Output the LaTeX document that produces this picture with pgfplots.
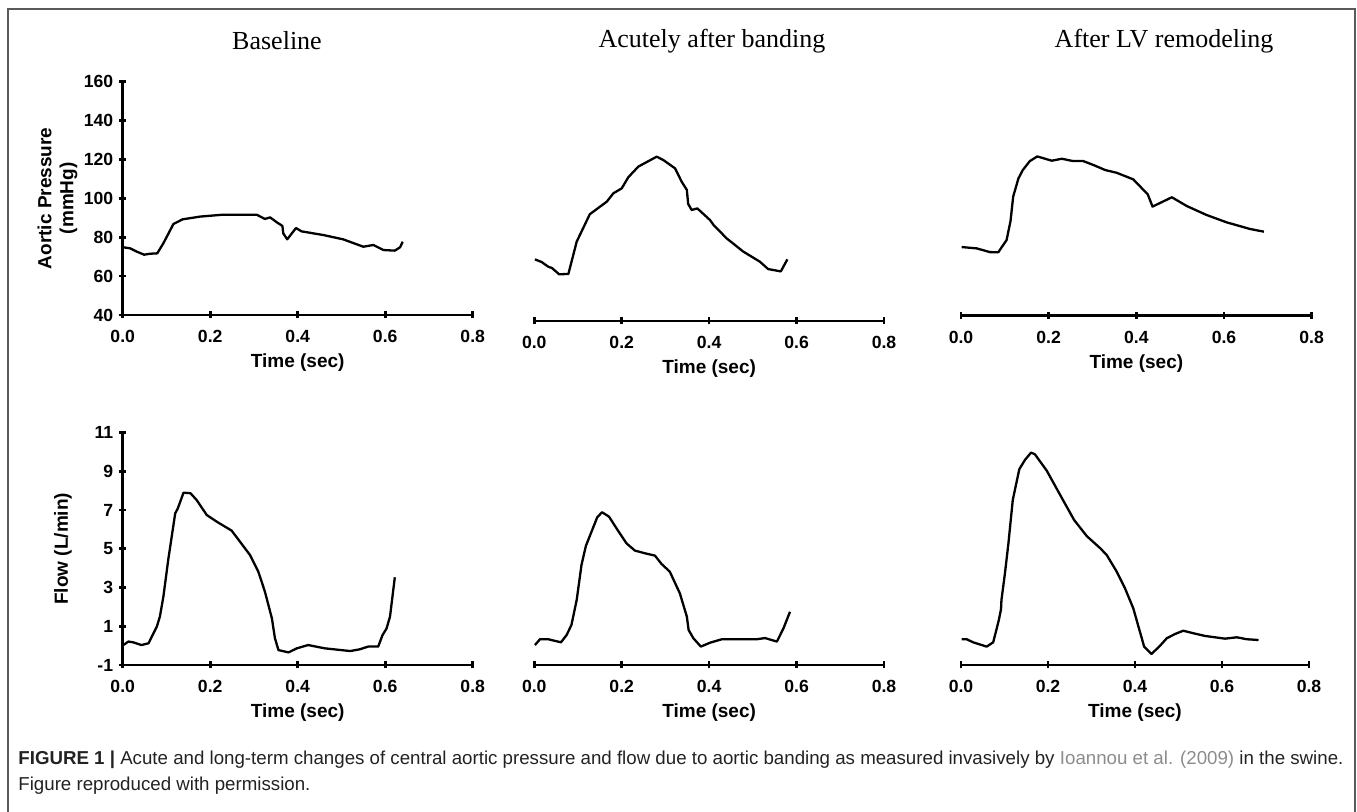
\documentclass[border=0pt]{standalone}
\usepackage{pgfplots}
\pgfplotsset{compat=1.18}
\usepackage{fontspec}
\setmainfont{Liberation Serif}
\setsansfont{Liberation Sans}
\definecolor{framegray}{HTML}{5A5A5A}
\definecolor{captxt}{HTML}{222222}
\definecolor{citegray}{HTML}{8C8C8C}

\pgfplotsset{
  panel/.style={
    scale only axis, anchor=south west, clip=false,
    xmin=0, xmax=0.8, xtick={0,0.2,0.4,0.6,0.8},
    tick style={line width=1.35pt, black},
    tick align=outside, major tick length=3.5pt,
    ticklabel style={font=\fontsize{8.8}{10}\sffamily\bfseries},
    /pgf/number format/assume math mode=true,
    xticklabel style={yshift=-2.5pt, /pgf/number format/.cd, fixed, fixed zerofill, precision=1},
    yticklabel style={xshift=0.5pt},
    xlabel={Time (sec)},
    label style={font=\fontsize{9.5}{11}\sffamily\bfseries},
    xlabel style={at={(axis description cs:0.5,0)}, anchor=center, yshift=-24pt},
    cycle list={{black,no marks}},
    every axis plot/.append style={line width=1.15pt, line join=round},
  },
  leftp/.style={panel, axis lines=left,
    x axis line style={line width=1.4pt, -}, y axis line style={line width=1.4pt, -}},
  otherp/.style={panel, axis x line=bottom, axis y line=none, ytick=\empty,
    x axis line style={line width=1.4pt, -}},
  press/.style={ymin=40, ymax=160, height=116.67pt},
  flow/.style={ymin=-1, ymax=11, height=116.17pt},
}

\begin{document}
\begin{tikzpicture}[x=1pt,y=1pt]
\useasboundingbox (0,0) rectangle (678.5,406);
\draw[framegray, line width=0.8pt] (4,0) -- (4,401.5) -- (677.5,401.5) -- (677.5,0);

\node[font=\fontsize{13}{15}\selectfont] at (138.5,385.5) {Baseline};
\node[font=\fontsize{13}{15}\selectfont] at (356,385.5) {Acutely after banding};
\node[font=\fontsize{13}{15}\selectfont] at (582,385.5) {After LV remodeling};

% top row: aortic pressure
\begin{axis}[leftp, press, at={(61.35pt,248.5pt)}, width=175pt,
  ytick={40,60,...,160},
  ylabel={Aortic Pressure\\(mmHg)},
  ylabel style={align=center, at={(axis description cs:-0.186,0.5)}, anchor=center}]
\addplot coordinates {
 (0.0015,74.8) (0.017,74.3) (0.032,72.6) (0.049,71.0) (0.0625,71.5) (0.079,71.7)
 (0.093,76.9) (0.116,86.8) (0.137,89.2) (0.177,90.6) (0.230,91.6) (0.306,91.6)
 (0.325,89.4) (0.337,90.2) (0.352,87.7) (0.365,85.8) (0.367,82.0) (0.376,78.9)
 (0.396,84.7) (0.409,83.0) (0.459,81.1) (0.504,78.9) (0.550,75.1) (0.573,76.0)
 (0.596,73.4) (0.622,73.1) (0.634,74.8) (0.640,77.7)
};
\end{axis}

\begin{axis}[otherp, press, at={(267.15pt,245.5pt)}, width=174.85pt]
\addplot coordinates {
 (0.0015,71.7) (0.017,70.3) (0.032,67.9) (0.040,67.3) (0.057,64.0) (0.078,64.2)
 (0.097,80.8) (0.127,94.9) (0.166,101.4) (0.181,105.7) (0.200,108.2) (0.215,113.9)
 (0.238,119.4) (0.280,124.5) (0.295,122.8) (0.322,118.5) (0.337,111.7) (0.349,107.4)
 (0.352,100.2) (0.360,97.1) (0.373,97.9) (0.387,95.0) (0.402,91.9) (0.410,89.4)
 (0.440,82.5) (0.478,75.7) (0.516,70.5) (0.535,66.7) (0.564,65.5) (0.579,71.7)
};
\end{axis}

\begin{axis}[otherp, press, at={(480.5pt,248.15pt)}, width=175.35pt]
\addplot coordinates {
 (0.0015,75.3) (0.036,74.6) (0.066,72.7) (0.085,72.6) (0.104,78.9) (0.113,88.7)
 (0.119,101.2) (0.131,110.6) (0.141,114.9) (0.157,119.5) (0.174,121.9) (0.207,119.7)
 (0.230,120.7) (0.256,119.5) (0.279,119.5) (0.302,117.5) (0.329,114.9) (0.355,113.5)
 (0.393,110.1) (0.426,102.4) (0.437,96.1) (0.481,100.9) (0.515,96.4) (0.560,91.8)
 (0.606,88.0) (0.659,84.6) (0.691,83.2)
};
\end{axis}

% bottom row: flow
\begin{axis}[leftp, flow, at={(61.35pt,73.5pt)}, width=175pt,
  ytick={-1,1,...,11},
  ylabel={Flow (L/min)},
  ylabel style={at={(axis description cs:-0.171,0.5)}, anchor=center}]
\addplot coordinates {
 (0.0015,0.03) (0.013,0.21) (0.024,0.17) (0.043,0.03) (0.059,0.12) (0.078,0.98)
 (0.085,1.50) (0.093,2.53) (0.104,4.42) (0.120,6.83) (0.126,7.09) (0.139,7.90)
 (0.155,7.87) (0.169,7.52) (0.192,6.75) (0.215,6.40) (0.249,5.94) (0.268,5.37)
 (0.291,4.68) (0.310,3.82) (0.325,2.79) (0.341,1.41) (0.348,0.38) (0.356,-0.23)
 (0.379,-0.35) (0.398,-0.14) (0.424,0.03) (0.462,-0.14) (0.520,-0.28) (0.542,-0.19)
 (0.561,-0.05) (0.584,-0.05) (0.594,0.55) (0.603,0.88) (0.611,1.50) (0.622,3.53)
};
\end{axis}

\begin{axis}[otherp, flow, at={(267.15pt,73.5pt)}, width=174.85pt]
\addplot coordinates {
 (0.0015,0.03) (0.013,0.33) (0.032,0.33) (0.061,0.17) (0.074,0.55) (0.085,1.07)
 (0.097,2.36) (0.108,4.17) (0.118,5.15) (0.131,5.89) (0.144,6.63) (0.155,6.89)
 (0.171,6.66) (0.192,5.92) (0.211,5.28) (0.230,4.91) (0.253,4.77) (0.276,4.65)
 (0.291,4.22) (0.310,3.82) (0.333,2.70) (0.349,1.50) (0.353,0.81) (0.364,0.38)
 (0.381,-0.05) (0.402,0.15) (0.429,0.33) (0.509,0.33) (0.528,0.39) (0.555,0.21)
 (0.570,0.89) (0.585,1.75)
};
\end{axis}

\begin{axis}[otherp, flow, at={(480.5pt,73.5pt)}, width=174pt]
\addplot coordinates {
 (0.0015,0.33) (0.013,0.33) (0.028,0.17) (0.059,-0.05) (0.074,0.17) (0.087,1.32)
 (0.092,1.88) (0.093,2.36) (0.101,3.73) (0.109,5.28) (0.119,7.52) (0.134,9.11)
 (0.147,9.59) (0.161,9.97) (0.170,9.88) (0.197,9.04) (0.228,7.78) (0.260,6.49)
 (0.289,5.66) (0.320,5.03) (0.335,4.68) (0.358,3.82) (0.377,2.96) (0.396,1.93)
 (0.421,-0.05) (0.438,-0.43) (0.457,-0.02) (0.473,0.38) (0.492,0.60) (0.511,0.77)
 (0.534,0.64) (0.561,0.50) (0.607,0.36) (0.634,0.43) (0.657,0.33) (0.684,0.29)
};
\end{axis}

% caption
\node[anchor=west, inner sep=0pt, text=captxt, font=\fontsize{9.35}{11}\sffamily] at (9,26)
 {\textbf{FIGURE 1 |} Acute and long-term changes of central aortic pressure and flow due to aortic banding as measured invasively by \textcolor{citegray}{Ioannou et al. (2009)} in the swine.};
\node[anchor=west, inner sep=0pt, text=captxt, font=\fontsize{9.35}{11}\sffamily] at (9,13)
 {Figure reproduced with permission.};
\end{tikzpicture}
\end{document}
